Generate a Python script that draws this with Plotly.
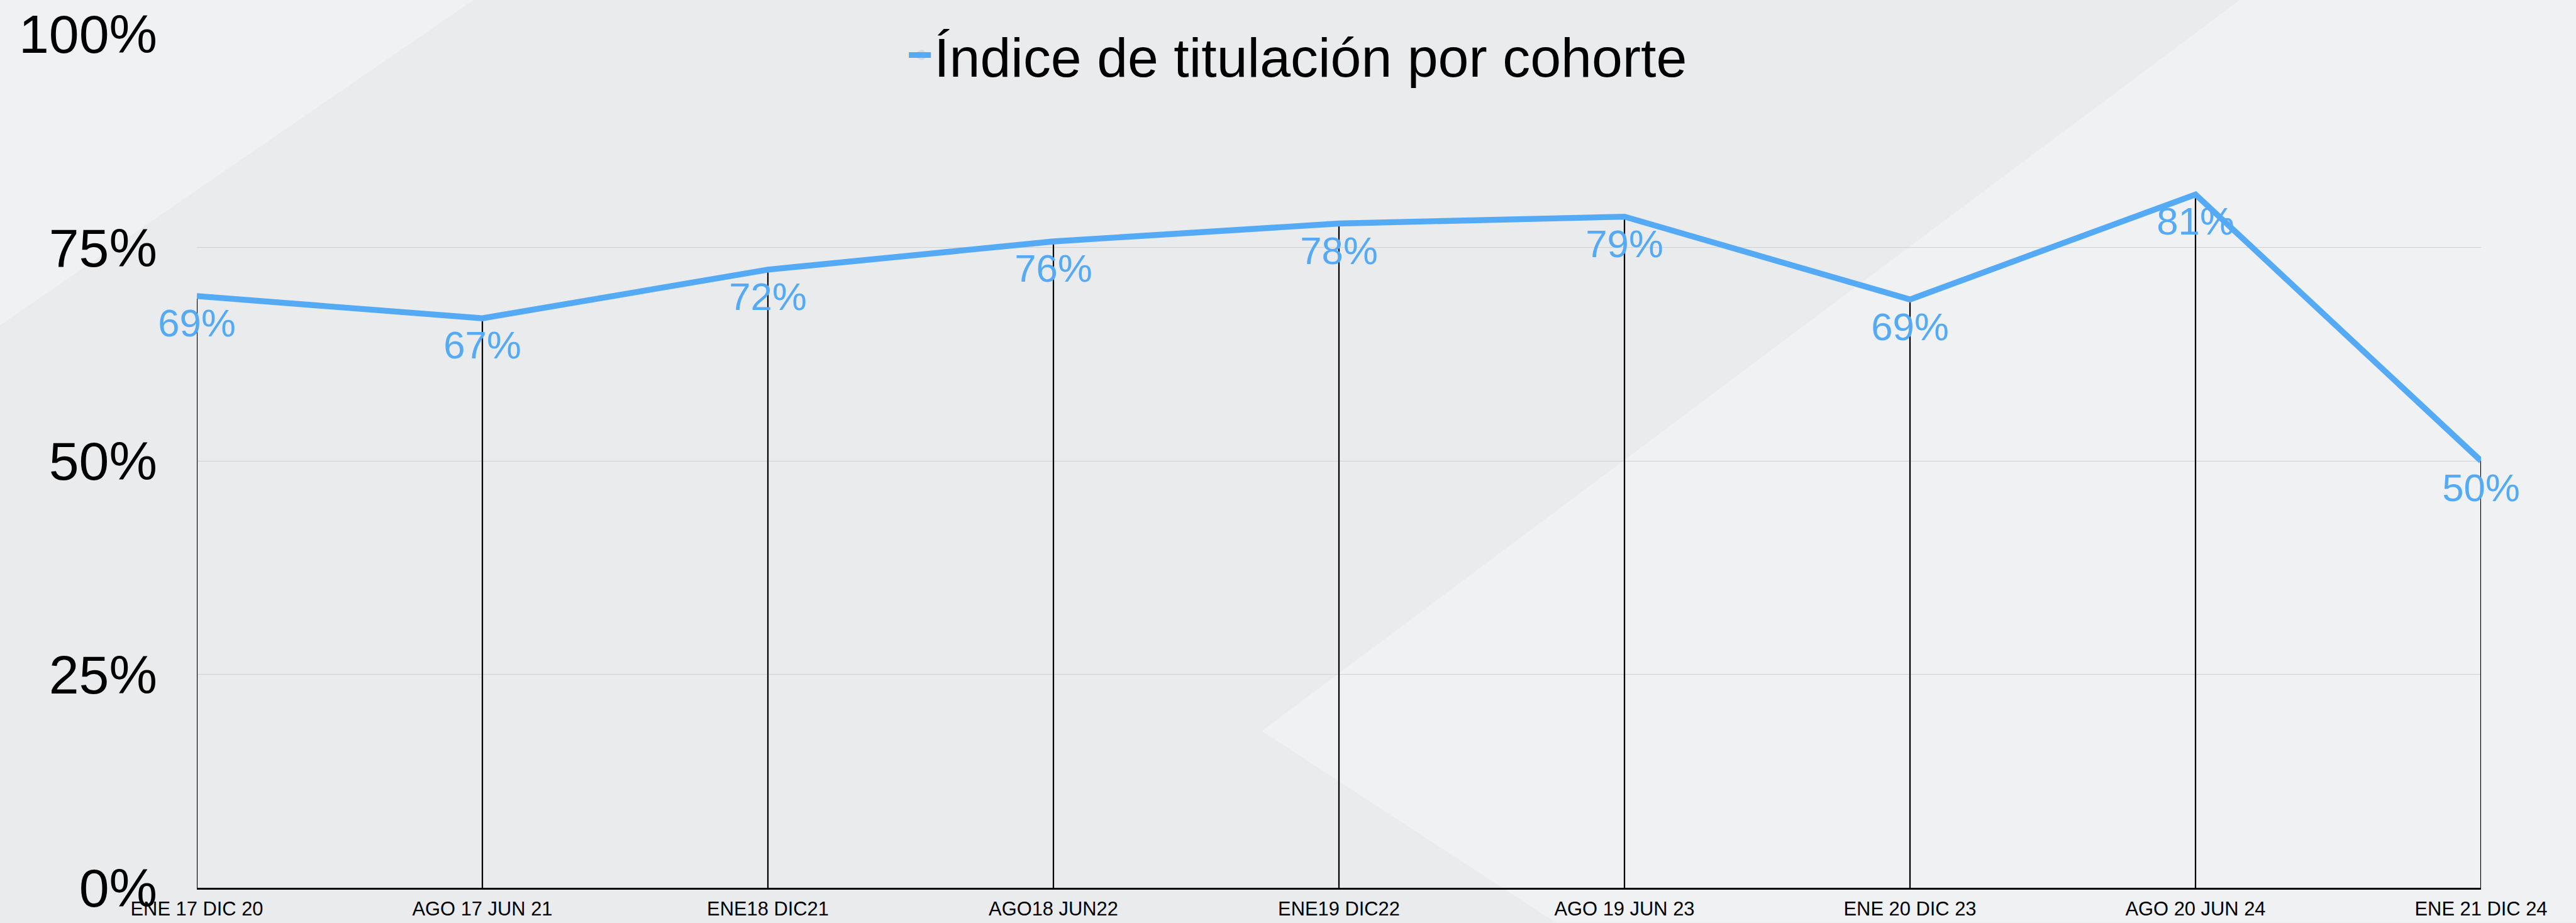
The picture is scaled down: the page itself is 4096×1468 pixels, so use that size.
import plotly.graph_objects as go

# ---- data ----
categories = ["ENE 17 DIC 20", "AGO 17 JUN 21", "ENE18 DIC21", "AGO18 JUN22", "ENE19 DIC22",
              "AGO 19 JUN 23", "ENE 20 DIC 23", "AGO 20 JUN 24", "ENE 21 DIC 24"]
values = [0.693, 0.667, 0.724, 0.757, 0.778, 0.786, 0.689, 0.812, 0.50]
series_name = "Índice de titulación por cohorte"
y_ticks = [0, 0.25, 0.5, 0.75, 1.0]
y_ticktext = ["0%", "25%", "50%", "75%", "100%"]

# ---- geometry (output pixels) ----
S = 4096 / 4379
W_OUT, H_OUT = 4096, 1468
L = round(335 * S)
R = W_OUT - round(4218 * S)
T = round(58 * S)
B = H_OUT - round(1510 * S)
PW = W_OUT - L - R
PH = H_OUT - T - B

FONT = "Liberation Sans, Arial, Helvetica, sans-serif"
BLUE = "#55AAF6"
BG = "#eaebed"

def px(xf, yf):
    xo, yo = xf * S, yf * S
    return (xo - L) / PW, 1 - (yo - T) / PH

def poly(pts):
    s = ""
    for i, (a, b) in enumerate(pts):
        xp, yp = px(a, b)
        s += ("M" if i == 0 else "L") + f"{xp:.5f},{yp:.5f} "
    return s + "Z"

xs = list(range(len(categories)))

fig = go.Figure()
fig.add_trace(go.Scatter(
    x=xs, y=values, mode="lines+markers+text", name=series_name,
    line=dict(color=BLUE, width=10 * S),
    marker=dict(size=27, opacity=0, color=BLUE),
    text=values, texttemplate="%{y:.0%}", textposition="bottom center",
    textfont=dict(family=FONT, size=66 * S, color=BLUE),
    error_y=dict(type="data", symmetric=False, array=[0] * len(values),
                 arrayminus=values, color="black", thickness=2.4 * S, width=0),
    cliponaxis=False, hoverinfo="skip",
))

shapes = [
    dict(type="path", xref="paper", yref="paper", layer="below",
         path=poly([(0, 0), (805, 0), (0, 553)]),
         fillcolor="#eff1f3", line=dict(width=0)),
    dict(type="path", xref="paper", yref="paper", layer="below",
         path=poly([(3807, 0), (2145, 1243), (2645, 1569), (4379, 1569), (4379, 0)]),
         fillcolor="#eff1f3", line=dict(width=0)),
]

fig.update_layout(
    width=W_OUT, height=H_OUT, autosize=False,
    margin=dict(l=L, r=R, t=T, b=B, pad=0, autoexpand=False),
    paper_bgcolor=BG, plot_bgcolor="rgba(0,0,0,0)",
    font=dict(family=FONT, color="black"),
    shapes=shapes,
    showlegend=True,
    legend=dict(orientation="h", x=(1545 * S - L) / PW, xanchor="left",
                y=1 - (94 * S - T) / PH, yanchor="middle",
                font=dict(family=FONT, size=94 * S, color="black"),
                bgcolor="rgba(0,0,0,0)", itemwidth=30),
    xaxis=dict(range=[0, len(categories) - 1], tickmode="array", tickvals=xs, ticktext=categories,
               showgrid=False, zeroline=False, showline=True, linecolor="black", linewidth=3 * S,
               ticks="", tickfont=dict(family=FONT, size=33 * S, color="black"),
               ticklabelstandoff=4, automargin=False),
    yaxis=dict(range=[0, 1], tickmode="array", tickvals=y_ticks, ticktext=y_ticktext,
               showgrid=True, gridcolor="#cfd0d2", gridwidth=1.6 * S, zeroline=False,
               showline=False, ticks="", tickfont=dict(family=FONT, size=92 * S, color="black"),
               ticklabelstandoff=round(66 * S), automargin=False),
)

post = ("document.body.style.margin='0';document.body.style.overflow='hidden';"
        f"document.body.style.background='{BG}';"
        "document.querySelectorAll('.legendlines path').forEach(function(p){"
        "p.setAttribute('d','M-12,0h47');p.style.strokeWidth='9px';});")

fig.write_html("out.html", config={"displayModeBar": False}, post_script=post)
